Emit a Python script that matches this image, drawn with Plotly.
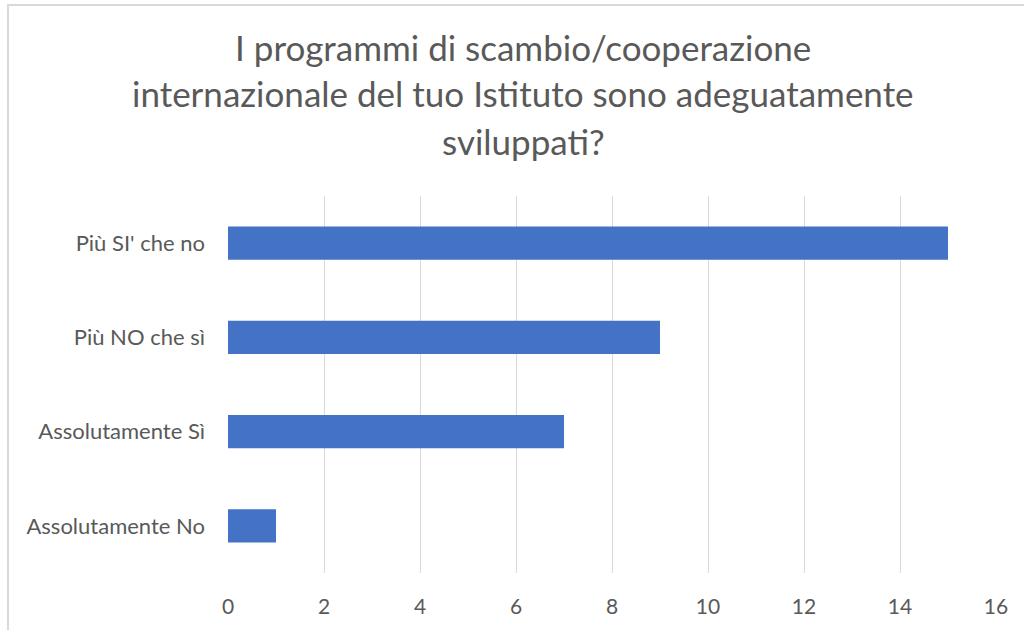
import plotly.graph_objects as go

categories = ["Assolutamente No", "Assolutamente Sì", "Più NO che sì", "Più SI' che no"]
values = [1, 7, 9, 15]
x_ticks = [0, 2, 4, 6, 8, 10, 12, 14, 16]

title_lines = ["I programmi di scambio/cooperazione",
               "internazionale del tuo Istituto sono adeguatamente",
               "sviluppati?"]

FONT = "Lato, Open Sans, sans-serif"
GREY = "#595959"

fig = go.Figure()
fig.add_trace(go.Bar(
    y=categories, x=values, orientation="h",
    marker=dict(color="#4472C4", line=dict(width=0)),
    width=0.355,
))

L, R, T, B = 228, 28, 196, 57
W, H = 1024, 630
pw, ph = W - L - R, H - T - B

fig.update_layout(
    width=W, height=H,
    margin=dict(l=L, r=R, t=T, b=B, autoexpand=False),
    paper_bgcolor="white", plot_bgcolor="white",
    font=dict(family=FONT, color=GREY),
    showlegend=False,
    xaxis=dict(range=[0, 16], tickvals=x_ticks, showgrid=True, gridcolor="#d9d9d9", gridwidth=1,
               zeroline=False, showline=False, ticks="", tickfont=dict(size=21, color=GREY),
               ticklabelstandoff=19),
    yaxis=dict(showgrid=False, zeroline=False, showline=False, ticks="",
               tickfont=dict(size=22, color=GREY), ticklabelstandoff=22),
)

# title lines as annotations (line centres in pixels from top)
line_centres = [47, 93, 141]
for text, yc in zip(title_lines, line_centres):
    fig.add_annotation(text=text, xref="paper", yref="paper",
                       x=(523 - L) / pw, y=(H - B - yc) / ph, xanchor="center", yanchor="middle",
                       showarrow=False, align="center",
                       font=dict(size=35, color=GREY, family=FONT))

# chart frame
fig.add_shape(type="rect", xref="paper", yref="paper",
              x0=(8 - L) / pw, x1=(1040 - L) / pw,
              y0=(H - B - 650) / ph, y1=(H - B - 5) / ph,
              line=dict(color="#d9d9d9", width=2), fillcolor="rgba(0,0,0,0)", layer="below")

fig.write_html("out.html", config={"displayModeBar": False},
               post_script="document.body.style.margin='0';")
